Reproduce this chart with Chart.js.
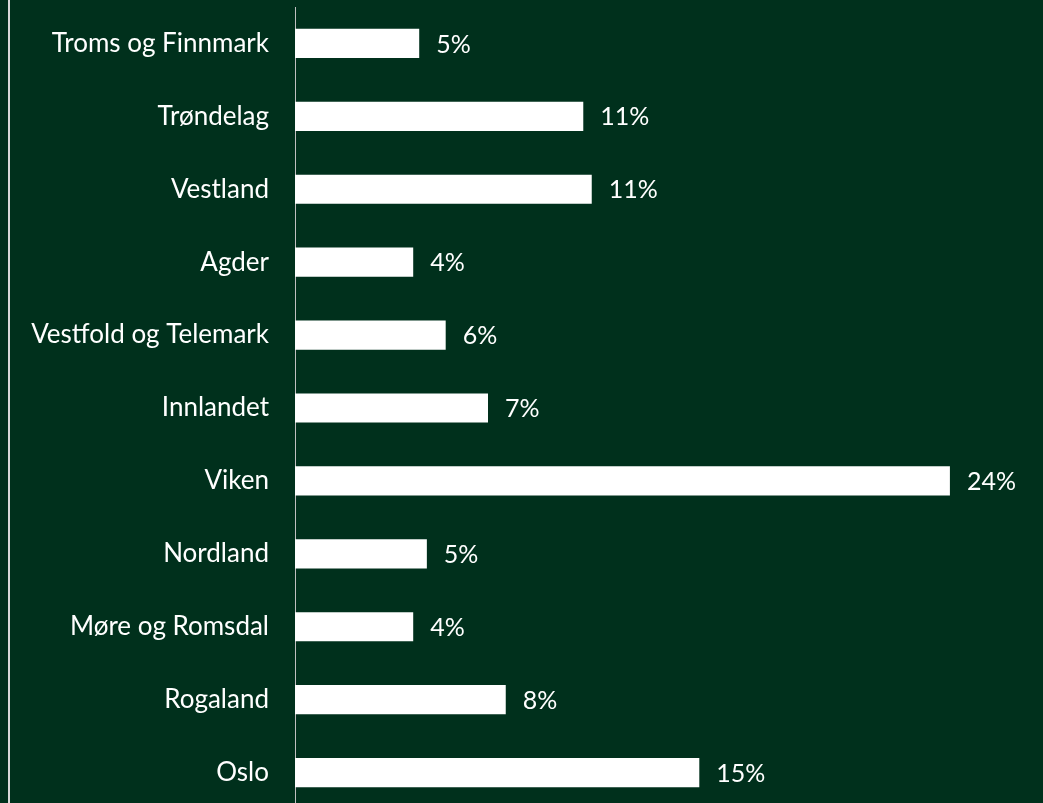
<!DOCTYPE html>
<html>
<head>
<meta charset="utf-8">
<script src="https://cdn.jsdelivr.net/npm/chart.js@4"></script>
<style>
  html, body { margin:0; padding:0; background:#00301c; overflow:hidden; }
  #wrap { position:relative; width:1043px; height:803px; }
  #edge { position:absolute; left:8px; top:0; width:2px; height:803px; background:#d9d9d9; }
  canvas { position:absolute; left:0; top:0; }
</style>
</head>
<body>
<div id="wrap">
  <canvas id="regionChart" width="1043" height="810"></canvas>
  <div id="edge"></div>
</div>
<script>
const regions = ['Troms og Finnmark','Trøndelag','Vestland','Agder','Vestfold og Telemark','Innlandet','Viken','Nordland','Møre og Romsdal','Rogaland','Oslo'];
const shares = [4.55, 10.56, 10.87, 4.33, 5.52, 7.07, 23.99, 4.83, 4.33, 7.72, 14.81];

const fontFamily = "Lato, 'Open Sans', sans-serif";

const valueLabels = {
    id:'valueLabels',
    afterDatasetsDraw(chart){
        const ctx = chart.ctx;
        const meta = chart.getDatasetMeta(0);
        ctx.save();
        ctx.fillStyle = '#ffffff';
        ctx.font = '25px ' + fontFamily;
        ctx.textAlign = 'left';
        ctx.textBaseline = 'middle';
        meta.data.forEach(function(bar, i){
            ctx.fillText(Math.round(shares[i]) + '%', bar.x + 17, bar.y + 1);
        });
        ctx.restore();
    }
};

document.addEventListener("DOMContentLoaded", function() {
    const ctx = document.getElementById('regionChart').getContext('2d');
    new Chart(ctx, {
        type:'bar',
        data:{
            labels: regions,
            datasets:[{
                data: shares,
                backgroundColor:'#ffffff',
                borderWidth:0,
                barPercentage:0.4,
                categoryPercentage:1
            }]
        },
        options:{
            indexAxis:'y',
            responsive:false,
            animation:false,
            layout:{padding:{top:7, bottom:1, left:0, right:0}},
            plugins:{legend:{display:false}, tooltip:{enabled:false}},
            scales:{
                x:{
                    display:false,
                    min:0,
                    max:27.4
                },
                y:{
                    afterFit:function(scale){
                        scale.width = 295;
                        scale.paddingTop = 0;
                        scale.paddingBottom = 0;
                    },
                    grid:{display:false, drawTicks:true, tickLength:26},
                    border:{display:true, color:'#bfbfbf', width:1},
                    ticks:{
                        color:'#ffffff',
                        padding:0,
                        font:{family:fontFamily, size:26}
                    }
                }
            }
        },
        plugins:[valueLabels]
    });
});
</script>
</body>
</html>
